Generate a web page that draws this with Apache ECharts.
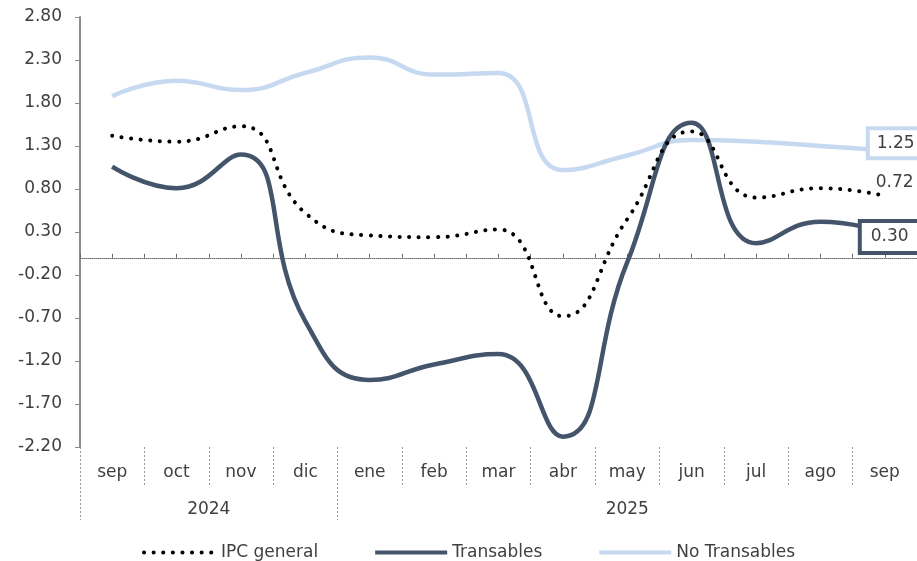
<!DOCTYPE html>
<html>
<head>
<meta charset="utf-8">
<script src="https://cdn.jsdelivr.net/npm/echarts@6/dist/echarts.min.js"></script>
<style>
  html, body { margin: 0; padding: 0; background: #fff; }
  #chart { width: 917px; height: 561px; }
</style>
</head>
<body>
<div id="chart"></div>
<script>
// datos
var meses = ['sep', 'oct', 'nov', 'dic', 'ene', 'feb', 'mar', 'abr', 'may', 'jun', 'jul', 'ago', 'sep'];
var anios = ['2024', '2025'];
var ipcGeneral = [1.42, 1.35, 1.53, 0.52, 0.26, 0.24, 0.33, -0.68, 0.45, 1.47, 0.70, 0.81, 0.72];
var transables = [1.06, 0.81, 1.20, -0.74, -1.42, -1.24, -1.12, -2.08, -0.05, 1.57, 0.17, 0.42, 0.30];
var noTransables = [1.88, 2.06, 1.95, 2.15, 2.33, 2.13, 2.15, 1.02, 1.19, 1.37, 1.35, 1.30, 1.25];

var FONT = 'DejaVu Sans';
var TXT = '#404040';
var GRIS = '#9a9a9a';

var chart = echarts.init(document.getElementById('chart'));

var option = {
  animation: false,
  textStyle: { fontFamily: FONT },
  grid: { left: 80, right: 0, top: 17, bottom: 114, containLabel: false },
  legend: {
    left: 137,
    top: 539,
    itemWidth: 72,
    itemHeight: 14,
    itemGap: 55,
    itemStyle: { opacity: 0 },
    lineStyle: { width: 4 },
    textStyle: { fontFamily: FONT, fontSize: 17, color: TXT },
    data: ['IPC general', 'Transables', 'No Transables']
  },
  xAxis: [
    {
      // meses
      type: 'category',
      data: meses,
      position: 'bottom',
      boundaryGap: true,
      axisLine: { show: false, onZero: false },
      axisTick: { show: true, length: 38, lineStyle: { color: GRIS, type: [2, 2], width: 1 } },
      axisLabel: { fontFamily: FONT, fontSize: 17, color: TXT, margin: 17 }
    },
    {
      // años
      type: 'value',
      min: 0,
      max: 13,
      position: 'bottom',
      axisLine: { show: false, onZero: false },
      splitLine: { show: false },
      axisTick: { show: true, length: 73, customValues: [0, 4], lineStyle: { color: GRIS, type: [2, 2], width: 1 } },
      axisLabel: {
        fontFamily: FONT, fontSize: 17, color: TXT, margin: 54,
        customValues: [2, 8.5],
        formatter: function (v) { return v < 4 ? anios[0] : anios[1]; }
      }
    },
    {
      // linea de cero
      type: 'value',
      min: 0,
      max: 26,
      interval: 1,
      position: 'bottom',
      axisLine: { show: true, onZero: true, onZeroAxisIndex: 0, lineStyle: { color: '#6a6a6a', width: 1, type: [1, 1] } },
      axisTick: { show: true, inside: true, length: 4, lineStyle: { color: '#6a6a6a', width: 1 } },
      axisLabel: { show: false },
      splitLine: { show: false }
    }
  ],
  yAxis: {
    type: 'value',
    min: -2.2,
    max: 2.8,
    interval: 0.5,
    axisLine: { show: true, lineStyle: { color: '#8c8c8c', width: 2 } },
    axisTick: { show: true, length: 5, lineStyle: { color: '#8c8c8c', width: 1 } },
    splitLine: { show: false },
    axisLabel: {
      fontFamily: FONT, fontSize: 17, color: TXT, margin: 18,
      formatter: function (v) { return v.toFixed(2); }
    }
  },
  series: [
    {
      name: 'No Transables',
      type: 'line',
      smooth: 0.5,
      symbol: 'none',
      data: noTransables,
      z: 2,
      lineStyle: { color: '#C6D9F0', width: 4.5 },
      itemStyle: { color: '#C6D9F0' },
      endLabel: {
        show: true,
        distance: 0,
        offset: [-15, -7],
        formatter: function (p) { return p.value.toFixed(2); },
        fontFamily: FONT, fontSize: 17, color: TXT,
        backgroundColor: '#fff',
        borderColor: '#C6D9F0',
        borderWidth: 4,
        padding: [5, 9, 4, 7]
      }
    },
    {
      name: 'Transables',
      type: 'line',
      smooth: 0.5,
      symbol: 'none',
      data: transables,
      z: 3,
      lineStyle: { color: '#44546A', width: 4.5 },
      itemStyle: { color: '#44546A' },
      endLabel: {
        show: true,
        distance: 0,
        offset: [-23, 5],
        formatter: function (p) { return p.value.toFixed(2); },
        fontFamily: FONT, fontSize: 17, color: TXT,
        backgroundColor: '#fff',
        borderColor: '#44546A',
        borderWidth: 4,
        padding: [6, 12, 5, 9]
      }
    },
    {
      name: 'IPC general',
      type: 'line',
      smooth: 0.5,
      symbol: 'none',
      data: ipcGeneral,
      z: 4,
      lineStyle: { color: '#000', width: 4, type: [0.1, 9.5], cap: 'round' },
      itemStyle: { color: '#000' },
      endLabel: {
        show: true,
        distance: 0,
        offset: [-9, -13],
        formatter: function (p) { return p.value.toFixed(2); },
        fontFamily: FONT, fontSize: 17, color: TXT
      }
    }
  ]
};

chart.setOption(option);
</script>
</body>
</html>
